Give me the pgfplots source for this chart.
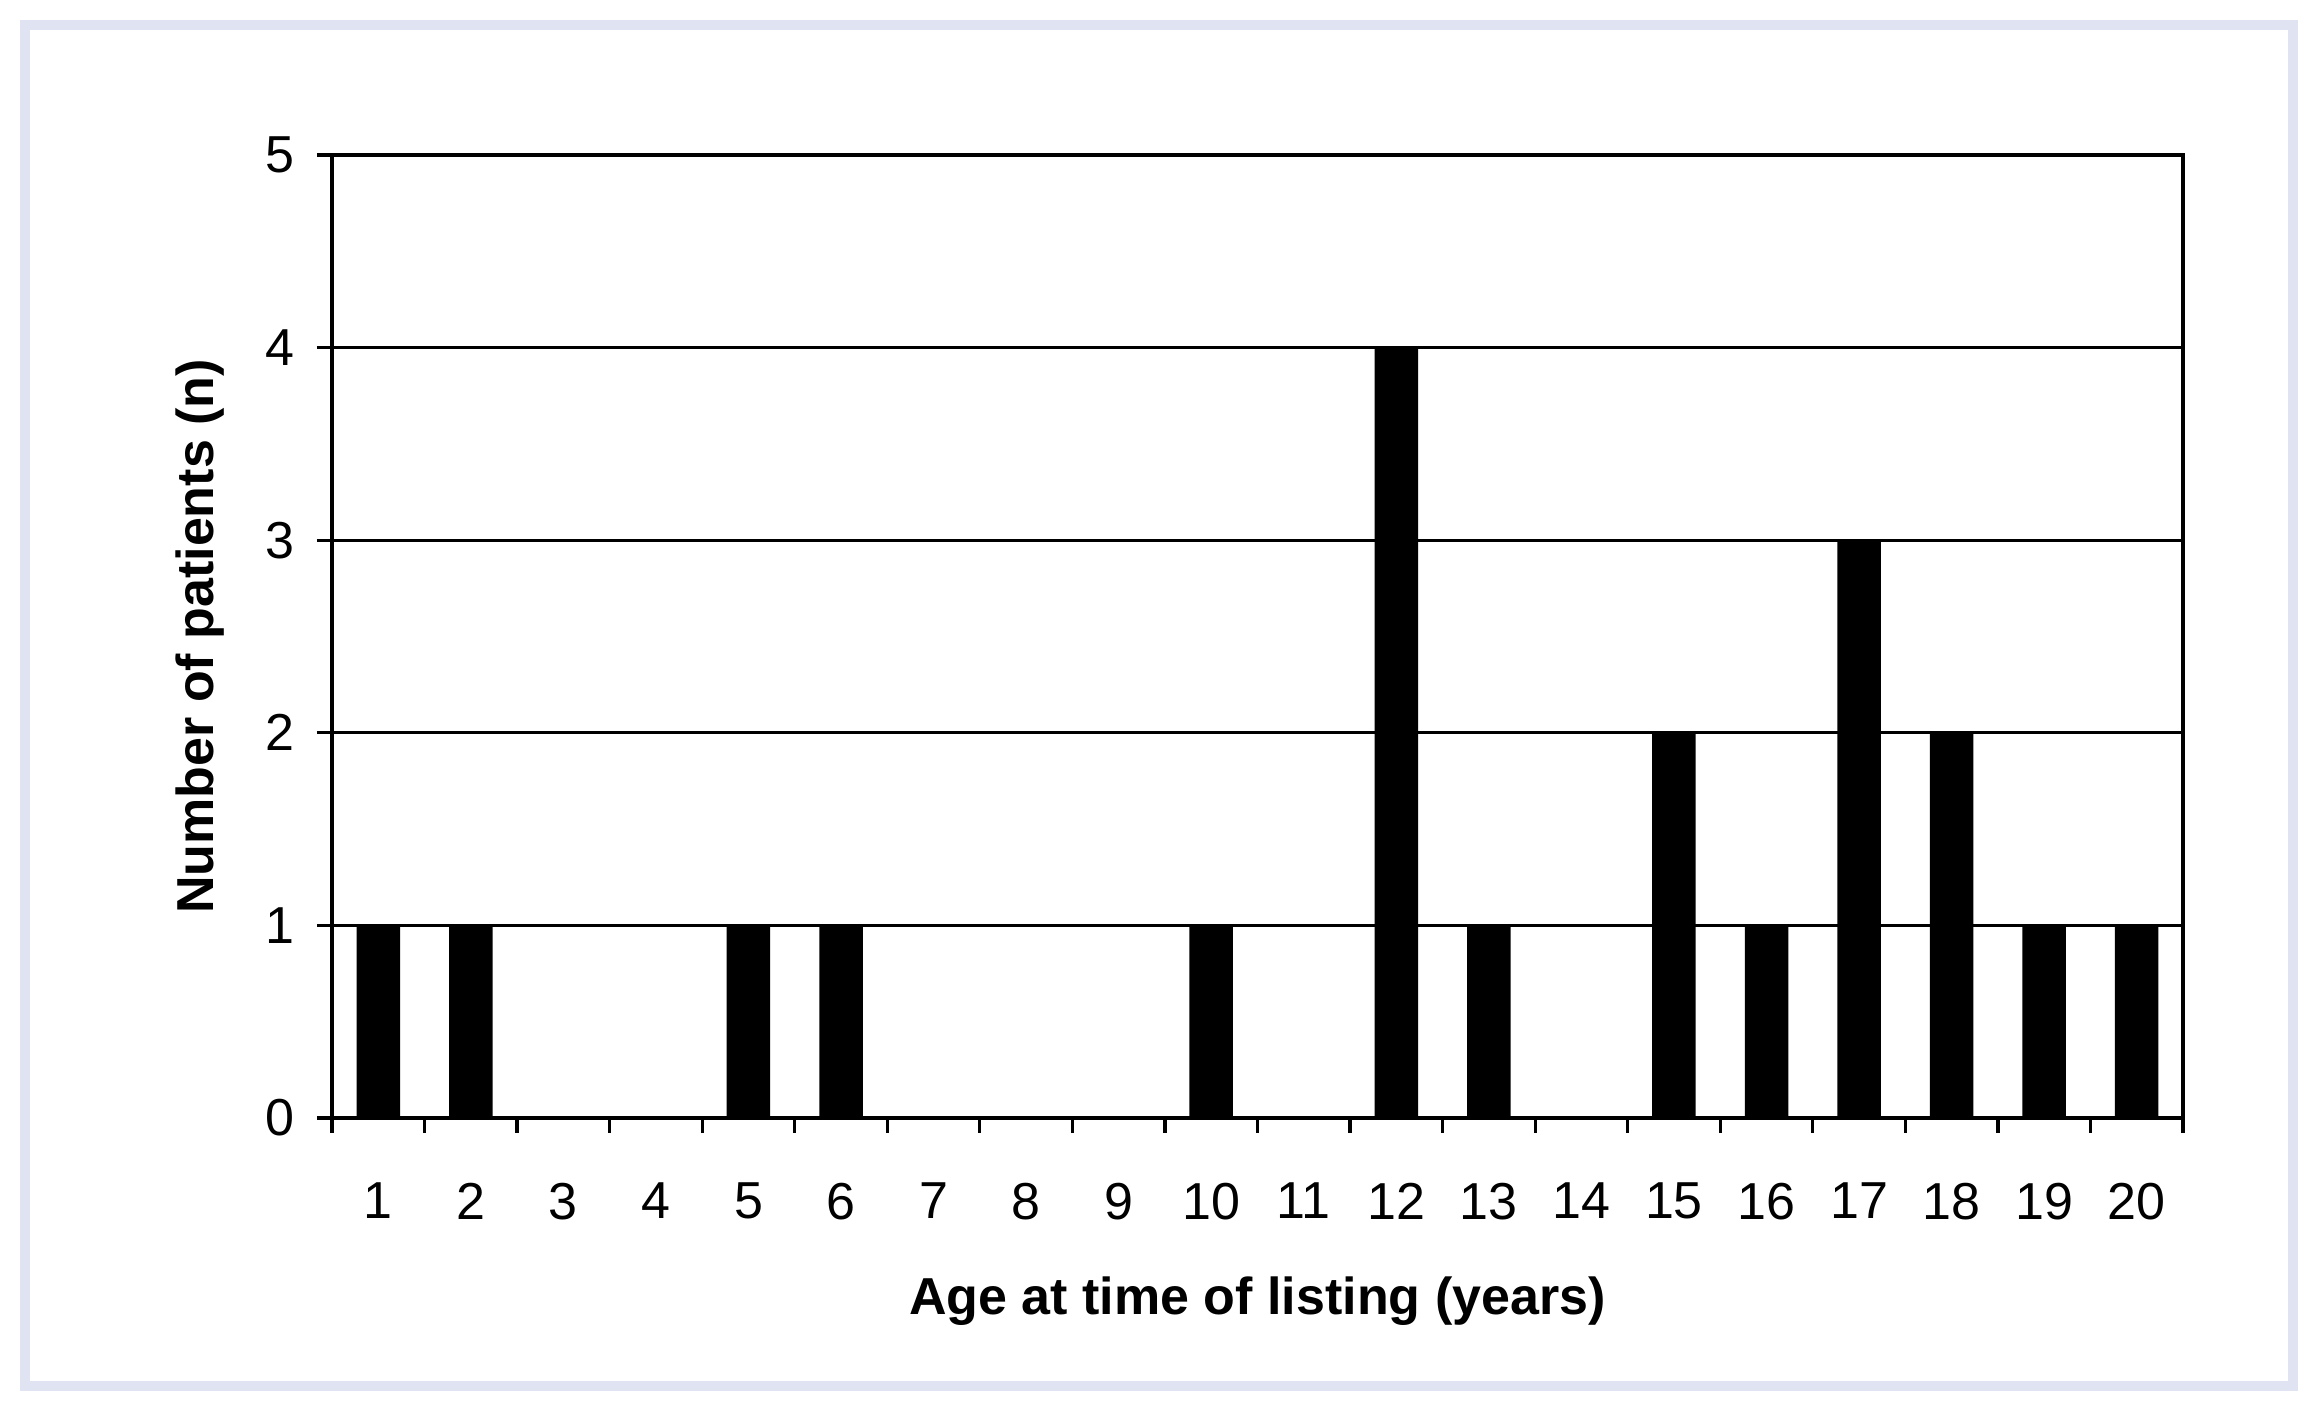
\documentclass[border=0pt]{standalone}
\usepackage{fontspec}
\setmainfont{Liberation Sans}
\usepackage{pgfplots}
\pgfplotsset{compat=1.18}
\definecolor{framecol}{RGB}{224,228,242}
\begin{document}
\begin{tikzpicture}
\useasboundingbox (0,0) rectangle (579pt,352.5pt);
\fill[white] (0,0) rectangle (579pt,352.5pt);
\draw[framecol, line width=2.5pt] (6.25pt,6pt) rectangle (573.25pt,346.25pt);
\begin{axis}[
  at={(83pt,73pt)}, anchor=south west,
  scale only axis, width=462.75pt, height=240.75pt,
  xmin=0.5, xmax=20.5, ymin=0, ymax=5,
  ybar, bar width=0.47,
  xtick={0.5,1.5,...,20.5},
  xticklabels={1,2,3,4,5,6,7,8,9,10,11,12,13,14,15,16,17,18,19,20,{}},
  xticklabel style={xshift=11.57pt, yshift=-8.9pt, font=\fontsize{13}{15}\selectfont},
  ytick={0,1,2,3,4,5},
  yticklabel style={xshift=-2.2pt, font=\fontsize{13}{15}\selectfont},
  /pgf/number format/assume math mode=true,
  tick align=outside, major tick length=3.75pt,
  tick style={black, line width=0.8pt},
  xtick pos=bottom, ytick pos=left,
  axis line style={black, line width=1.2pt},
  ymajorgrids, grid style={black, line width=0.7pt},
  xlabel={\textbf{Age at time of listing (years)}},
  ylabel={\textbf{Number of patients (n)}},
  label style={font=\fontsize{13}{15}\selectfont},
  xlabel style={at={(axis description cs:0.5,-0.19)}, anchor=center},
  ylabel style={at={(axis description cs:-0.0713,0.5)}, anchor=center, rotate=0},
]
\addplot[fill=black, draw=none] coordinates {
 (1,1) (2,1) (3,0) (4,0) (5,1) (6,1) (7,0) (8,0) (9,0) (10,1)
 (11,0) (12,4) (13,1) (14,0) (15,2) (16,1) (17,3) (18,2) (19,1) (20,1)
};
\end{axis}
\end{tikzpicture}
\end{document}
